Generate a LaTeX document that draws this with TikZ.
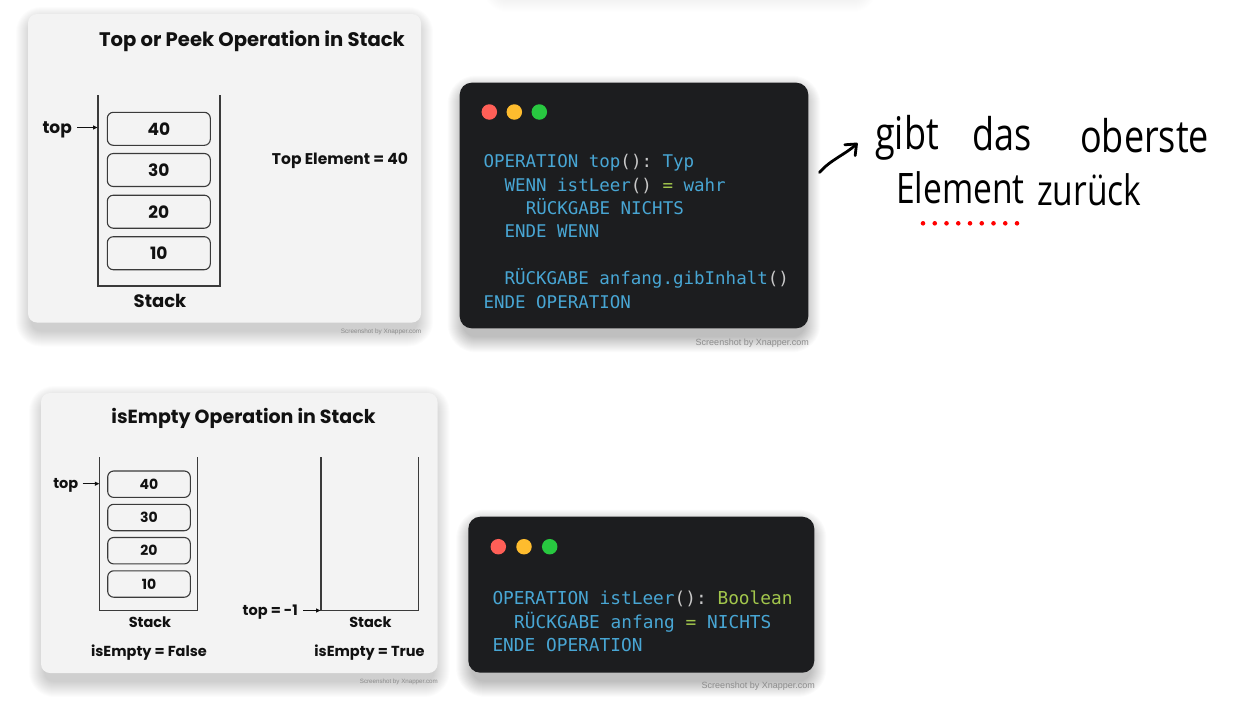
\documentclass[tikz,border=0pt]{standalone}
\usepackage{fontspec}
\setmainfont{Poppins}
\newfontfamily\codefont[WordSpace={1,0,0},PunctuationSpace=WordSpace]{DejaVu Sans Mono}
\newfontfamily\handfont[FakeStretch=0.8]{Open Sans}
\newfontfamily\smallfont{Liberation Sans}
\usetikzlibrary{arrows.meta}
\definecolor{cardbg}{HTML}{F3F3F3}
\definecolor{codebg}{HTML}{1C1D1F}
\definecolor{kw}{HTML}{48A6D4}
\definecolor{pn}{HTML}{C8C8C8}
\definecolor{grn}{HTML}{A2C64C}
\definecolor{dred}{HTML}{FF5F57}
\definecolor{dyel}{HTML}{FEBC2E}
\definecolor{dgrn}{HTML}{28C840}
\definecolor{ink}{HTML}{3A3A3A}
\definecolor{txt}{HTML}{111111}
\newcommand{\ckw}[1]{\textcolor{kw}{#1}}
\newcommand{\cpn}[1]{\textcolor{pn}{#1}}
\newcommand{\cgr}[1]{\textcolor{grn}{#1}}
% soft shadow: x1 y1 x2 y2 corner-radius opacity-per-layer
\newcommand{\softshadow}[6]{%
  \foreach \k [evaluate=\k as \r using #5+\k] in {1,...,16}{%
    \fill[black, opacity=#6, rounded corners=\r pt] (#1+4-\k,#2+9-\k) rectangle (#3-4+\k,#4+8+\k);
  }}
\begin{document}
\begin{tikzpicture}[x=1pt,y=-1pt,
  card/.style={fill=cardbg, rounded corners=9pt},
  codecard/.style={fill=codebg, rounded corners=12pt},
  lbl/.style={font=\bfseries\fontsize{#1}{#1}\selectfont, text=txt, inner sep=0pt},
  cell/.style={draw=ink, line width=1.1pt, rounded corners=6pt, inner sep=0pt, fill=cardbg, text=txt, font=\bfseries\fontsize{#1}{#1}\selectfont},
  wall/.style={draw=ink, line width=1.3pt},
  ptr/.style={draw=txt, line width=1pt, -{Triangle[length=4.5pt,width=4pt]}},
  code/.style={font=\codefont\frenchspacing\fontsize{#1}{#1}\selectfont, anchor=base west, inner sep=0pt},
  wdot/.style={circle, draw=none, minimum size=15.5pt, inner sep=0pt},
  hand/.style={font=\handfont\fontsize{#1}{#1}\selectfont, text=black, anchor=base west, inner sep=0pt},
  credit/.style={font=\smallfont\fontsize{#1}{#1}\selectfont, text=black!45, inner sep=0pt},
]
\useasboundingbox (0,0) rectangle (1255,715);
\fill[white] (0,0) rectangle (1255,715);
% faint shadow of an element above the page
\softshadow{495}{-60}{865}{-12}{8}{0.005}

% ================= Top-left card =================
\softshadow{28}{14}{421}{322.5}{9}{0.011}
\path[card] (28,14) rectangle (421,322.5);
\node[lbl=19.6, anchor=base] (t1) at (252,46) {Top or Peek Operation in Stack};
\draw[wall] (98,95) -- (98,286) -- (220,286) -- (220,95);
\node[cell=17, minimum width=103pt, minimum height=33pt] (a40) at (158.8,128.8) {40};
\node[cell=17, minimum width=103pt, minimum height=33pt] (a30) at (158.8,170) {30};
\node[cell=17, minimum width=103pt, minimum height=33pt] (a20) at (158.8,211.7) {20};
\node[cell=17, minimum width=103pt, minimum height=33pt] (a10) at (158.8,253.2) {10};
\node[lbl=17, anchor=base east] (atop) at (72,133) {top};
\coordinate (atopend) at (97.5,127.5);
\draw[ptr] ([xshift=5pt]atop.east |- atopend) -- (atopend);
\node[lbl=18, anchor=base] (astack) at (160,307.5) {Stack};
\node[lbl=15.5, anchor=base] (atopel) at (340,164) {Top Element = 40};
\node[credit=6.4, anchor=east] (cr1) at (421.5,331.7) {Screenshot by Xnapper.com};

% ================= Top code card =================
\softshadow{459.7}{82.7}{808.3}{328.3}{12}{0.014}
\path[codecard] (459.7,82.7) rectangle (808.3,328.3);
\node[wdot, fill=dred] (d1r) at (489.3,112) {};
\node[wdot, fill=dyel] (d1y) at (514.3,112) {};
\node[wdot, fill=dgrn] (d1g) at (539.3,112) {};
\node[code=17.5] (k1) at (483.3,167.5) {\ckw{OPERATION top}\cpn{():} \ckw{Typ}};
\node[code=17.5] (k2) at (504.3,191) {\ckw{WENN istLeer}\cpn{()} \cgr{=} \ckw{wahr}};
\node[code=17.5] (k3) at (525.6,214.4) {\ckw{RÜCKGABE NICHTS}};
\node[code=17.5] (k4) at (504.3,237.8) {\ckw{ENDE WENN}};
\node[code=17.5] (k6) at (504.3,284.6) {\ckw{RÜCKGABE anfang.gibInhalt}\cpn{()}};
\node[code=17.5] (k7) at (483.3,308) {\ckw{ENDE OPERATION}};
\node[credit=9, anchor=east] (cr2) at (809,342.7) {Screenshot by Xnapper.com};

% ================= Handwritten note =================
\coordinate (hwA) at (819.5,172.5);
\coordinate (hwB) at (857.5,143);
\draw[line width=2.8pt, line cap=round, line join=round, -{Straight Barb[length=9pt,width=15pt,round]}] (hwA) .. controls (830,160) and (846,154) .. (hwB);
\node[hand=45] (hw1) at (875,149) {gibt};
\node[hand=45] (hw2) at (972,150) {das};
\node[hand=45] (hw3) at (1080,152) {oberste};
\node[hand=42] (hw4) at (896,203) {Element};
\node[hand=42] (hw5) at (1037,205) {zurück};
\foreach \i in {0,...,8} \fill[red] (923+\i*11.75,223.3) circle (2.3pt);

% ================= Bottom-left card =================
\softshadow{41}{393}{437.5}{673}{9}{0.011}
\path[card] (41,393) rectangle (437.5,673);
\node[lbl=19, anchor=base] (t2) at (243.5,423) {isEmpty Operation in Stack};
\draw[wall] (99.7,457) -- (99.7,610.7) -- (197.7,610.7) -- (197.7,457);
\node[cell=14, minimum width=82.6pt, minimum height=26.4pt] (b40) at (149,484.2) {40};
\node[cell=14, minimum width=82.6pt, minimum height=26.4pt] (b30) at (149,517.5) {30};
\node[cell=14, minimum width=82.6pt, minimum height=26.4pt] (b20) at (149,550.7) {20};
\node[cell=14, minimum width=82.6pt, minimum height=26.4pt] (b10) at (149,584) {10};
\node[lbl=14.5, anchor=base east] (btop) at (78.5,488.5) {top};
\coordinate (btopend) at (99.3,483.7);
\draw[ptr] ([xshift=4pt]btop.east |- btopend) -- (btopend);
\node[lbl=14.5, anchor=base] (bstack) at (150,627.7) {Stack};
\node[lbl=14.5, anchor=base] (bfalse) at (149,656) {isEmpty = False};
\draw[wall] (321,457) -- (321,610.7) -- (418.7,610.7) -- (418.7,457);
\node[lbl=14.5, anchor=base east] (ctop) at (298,615) {top = -1};
\coordinate (ctopend) at (320.5,610.5);
\draw[ptr] ([xshift=5pt]ctop.east |- ctopend) -- (ctopend);
\node[lbl=14.5, anchor=base] (cstack) at (370.5,627.7) {Stack};
\node[lbl=14.5, anchor=base] (ctrue) at (369.5,656) {isEmpty = True};
\node[credit=6.2, anchor=east] (cr3) at (438,681.7) {Screenshot by Xnapper.com};

% ================= Bottom code card =================
\softshadow{468.3}{516.7}{814.3}{672.7}{12}{0.014}
\path[codecard] (468.3,516.7) rectangle (814.3,672.7);
\node[wdot, fill=dred] (d2r) at (498.3,546.7) {};
\node[wdot, fill=dyel] (d2y) at (524,546.7) {};
\node[wdot, fill=dgrn] (d2g) at (549.7,546.7) {};
\node[code=17.8] (m1) at (492.3,604) {\ckw{OPERATION istLeer}\cpn{():} \cgr{Boolean}};
\node[code=17.8] (m2) at (514,628.3) {\ckw{RÜCKGABE anfang} \cgr{=} \ckw{NICHTS}};
\node[code=17.8] (m3) at (492.3,651.7) {\ckw{ENDE OPERATION}};
\node[credit=9, anchor=east] (cr4) at (815,686) {Screenshot by Xnapper.com};
\end{tikzpicture}
\end{document}
